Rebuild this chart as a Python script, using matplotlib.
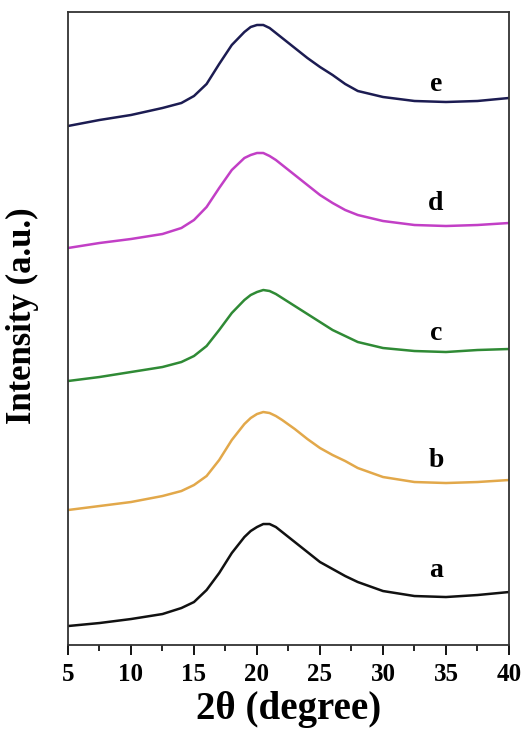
import numpy as np
import matplotlib
matplotlib.use('Agg')
from matplotlib import pyplot as plt
from matplotlib.ticker import MultipleLocator

# 2theta grid (degree) at which the traces were read
two_theta = [5, 7.5, 10, 12.5, 14, 15, 16, 17, 18, 19, 19.5, 20, 20.5, 21,
             21.5, 22, 23, 24, 25, 26, 27, 28, 30, 32.5, 35, 37.5, 40]

# stacked intensities (a.u.)
int_a = [19, 22, 26, 31, 37, 43, 55, 72, 92, 108, 114, 118, 121, 121,
         118, 113, 103, 93, 83, 76, 69, 63, 54, 49, 48, 50, 53]
int_b = [135, 139, 143, 149, 154, 160, 169, 185, 205, 221, 227, 231, 233, 232,
         229, 225, 216, 206, 197, 190, 184, 177, 168, 163, 162, 163, 165]
int_c = [264, 268, 273, 278, 283, 289, 299, 315, 332, 345, 350, 353, 355, 354,
         351, 347, 339, 331, 323, 315, 309, 303, 297, 294, 293, 295, 296]
int_d = [397, 402, 406, 411, 417, 425, 438, 457, 475, 487, 490, 492, 492, 489,
         485, 480, 470, 460, 450, 442, 435, 430, 424, 420, 419, 420, 422]
int_e = [519, 525, 530, 537, 542, 549, 561, 581, 600, 613, 618, 620, 620, 617,
         612, 607, 597, 587, 578, 570, 561, 554, 548, 544, 543, 544, 547]

names = ['a', 'b', 'c', 'd', 'e']
colors = ['#111111', '#e2a84a', '#2f8a35', '#c23fc6', '#1c1c52']
label_pos = [(34.2, 75), (34.2, 185), (34.2, 312), (34.2, 442), (34.2, 560)]

plt.rcParams['font.family'] = ['Liberation Serif', 'DejaVu Serif']
plt.rcParams['font.weight'] = 'bold'

fig = plt.figure(figsize=(5.25, 7.31), dpi=100)
ax = fig.add_axes([0.1295, 0.1176, 0.84, 0.866])

for y, c in zip([int_a, int_b, int_c, int_d, int_e], colors):
    ax.plot(two_theta, y, color=c, lw=1.8, solid_joinstyle='round')

for n, (lx, ly) in zip(names, label_pos):
    ax.text(lx, ly, n, fontsize=20, fontweight='bold', ha='center', va='center')

ax.set_xlim(5, 40)
ax.set_ylim(0, 633)
ax.xaxis.set_major_locator(MultipleLocator(5))
ax.xaxis.set_minor_locator(MultipleLocator(2.5))
ax.tick_params(axis='x', which='major', direction='out', length=7, width=1.3,
               labelsize=18, pad=6)
ax.tick_params(axis='x', which='minor', direction='out', length=4.5, width=1.2)
ax.set_yticks([])
for lab in ax.get_xticklabels():
    lab.set_fontweight('bold')
for s in ax.spines.values():
    s.set_linewidth(1.3)
    s.set_color('#333333')

ax.set_xlabel('2θ (degree)', fontsize=28, fontweight='bold')
ax.set_ylabel('Intensity (a.u.)', fontsize=25, fontweight='bold')
ax.xaxis.set_label_coords(0.5, -0.072)
ax.yaxis.set_label_coords(-0.066, 0.52)

fig.savefig('out.png', dpi=100)
